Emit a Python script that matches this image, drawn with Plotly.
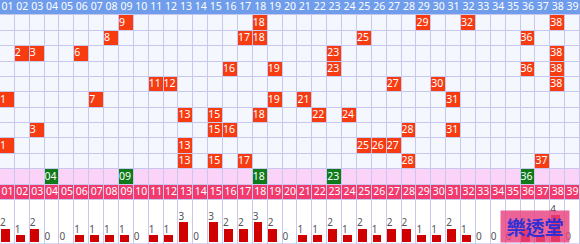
import plotly.graph_objects as go

# Ball numbers 01-39
numbers = list(range(1, 40))
col_labels = [f"{n:02d}" for n in numbers]

# Recent draws, oldest row at the top
draws = [
    [9, 18, 29, 32, 38],
    [8, 17, 18, 25, 36],
    [2, 3, 6, 23, 38],
    [16, 19, 23, 36, 38],
    [11, 12, 27, 30, 38],
    [1, 7, 19, 21, 31],
    [13, 15, 18, 22, 24],
    [3, 15, 16, 28, 31],
    [1, 13, 25, 26, 27],
    [13, 15, 17, 28, 37],
]

# Highlighted numbers on the pink row
highlight = [4, 9, 18, 23, 36]

# Number of appearances of each ball in the draws above
counts = [2, 1, 2, 0, 0, 1, 1, 1, 1, 0, 1, 1, 3, 0, 3, 2, 2, 3, 2, 0,
          1, 1, 2, 1, 2, 1, 2, 2, 1, 1, 2, 1, 0, 0, 0, 2, 1, 4, 0]

GRID = "#c8c8ef"
CELL = "#f5f7fe"
RED = "#f83c12"
PINK_ROW = "#fcd3f8"
GREEN = "#0f7a1a"
PINK_HEAD = "#f23a6e"
BLUE_HEAD = "#6f9deb"
BAR = "#d00000"
FONT = "Noto Sans"

n_rows = 13  # header, 10 draws, highlight row, bottom header
HL_ROW = 11
BOTTOM_ROW = 12

# cell categories: 0 normal, 1 drawn, 2 pink row, 3 highlighted, 4 pink header, 5 blue header
grid_z = [[None] * 39 for _ in range(n_rows)]
head_z = [[None] * 39 for _ in range(n_rows)]
for c in range(39):
    head_z[0][c] = 5
    for r in range(1, 11):
        grid_z[r][c] = 0
    grid_z[HL_ROW][c] = 2
    grid_z[BOTTOM_ROW][c] = 4
for r, draw in enumerate(draws, start=1):
    for n in draw:
        grid_z[r][n - 1] = 1
for n in highlight:
    grid_z[HL_ROW][n - 1] = 3

scale = [[0.0, CELL], [0.2, RED], [0.4, PINK_ROW], [0.6, GREEN], [0.8, PINK_HEAD], [1.0, BLUE_HEAD]]
rows = list(range(n_rows))

fig = go.Figure()

fig.add_trace(go.Heatmap(
    x=numbers, y=rows, z=grid_z, zmin=0, zmax=5, colorscale=scale,
    xgap=1, ygap=1, showscale=False, hoverinfo="skip",
))
fig.add_trace(go.Heatmap(
    x=numbers, y=rows, z=head_z, zmin=0, zmax=5, colorscale=scale,
    xgap=0, ygap=1, showscale=False, hoverinfo="skip",
))

# white columns behind the count bars
fig.add_trace(go.Heatmap(
    x=numbers, y=[-0.2, 6.4], z=[[0] * 39], zmin=0, zmax=1,
    colorscale=[[0, "#ffffff"], [1, "#ffffff"]], xgap=1,
    showscale=False, hoverinfo="skip", yaxis="y2",
))

# header labels
fig.add_trace(go.Scatter(
    x=numbers, y=[0] * 39, text=col_labels, mode="text",
    textposition="middle center",
    textfont=dict(family=FONT, size=10.5, color="white"), hoverinfo="skip",
))
fig.add_trace(go.Scatter(
    x=numbers, y=[BOTTOM_ROW] * 39, text=col_labels, mode="text",
    textposition="middle center",
    textfont=dict(family=FONT, size=10.5, color="white"), hoverinfo="skip",
))

# drawn numbers
dx, dy, dt = [], [], []
for r, draw in enumerate(draws, start=1):
    for n in draw:
        dx.append(n - 0.5)
        dy.append(r)
        dt.append(str(n))
fig.add_trace(go.Scatter(
    x=dx, y=dy, text=dt, mode="text", textposition="middle right",
    textfont=dict(family=FONT, size=10.5, color="white"), hoverinfo="skip",
))

# highlighted numbers
fig.add_trace(go.Scatter(
    x=[n - 0.5 for n in highlight], y=[HL_ROW] * len(highlight),
    text=[f"{n:02d}" for n in highlight], mode="text", textposition="middle right",
    textfont=dict(family=FONT, size=10.5, color="white"), hoverinfo="skip",
))

# count bars
fig.add_trace(go.Bar(
    x=numbers, y=counts, width=0.6, offset=-0.45,
    marker=dict(color=BAR, line=dict(width=0)), yaxis="y2", hoverinfo="skip",
))
fig.add_trace(go.Scatter(
    x=[n - 0.5 for n in numbers], y=counts, text=[str(c) for c in counts],
    mode="text", textposition="top right", yaxis="y2",
    textfont=dict(family=FONT, size=10, color="#555555"), hoverinfo="skip",
))

fig.add_annotation(
    text="<b>樂透堂</b>", xref="paper", yref="paper",
    x=500 / 580, y=(244 - 210) / 244, xanchor="left", yanchor="top",
    width=66, height=29, align="center", valign="middle",
    bgcolor="rgba(232,66,128,0.82)", showarrow=False,
    font=dict(family="Noto Sans CJK TC", size=19, color="#3030d4"),
)

top_domain = 44 / 244
fig.update_layout(
    width=580, height=244, margin=dict(l=0, r=0, t=0, b=0),
    paper_bgcolor=GRID, plot_bgcolor=GRID, showlegend=False,
    bargap=0,
    xaxis=dict(range=[0.5, 39.5], showgrid=False, zeroline=False,
               showticklabels=False, fixedrange=True),
    yaxis=dict(domain=[top_domain, 1], range=[n_rows - 0.5, -0.5], showgrid=False,
               zeroline=False, showticklabels=False, fixedrange=True),
    yaxis2=dict(domain=[0, top_domain], range=[-0.3, 6.3], showgrid=False,
                zeroline=False, showticklabels=False, fixedrange=True),
)

fig.write_html("out.html")
